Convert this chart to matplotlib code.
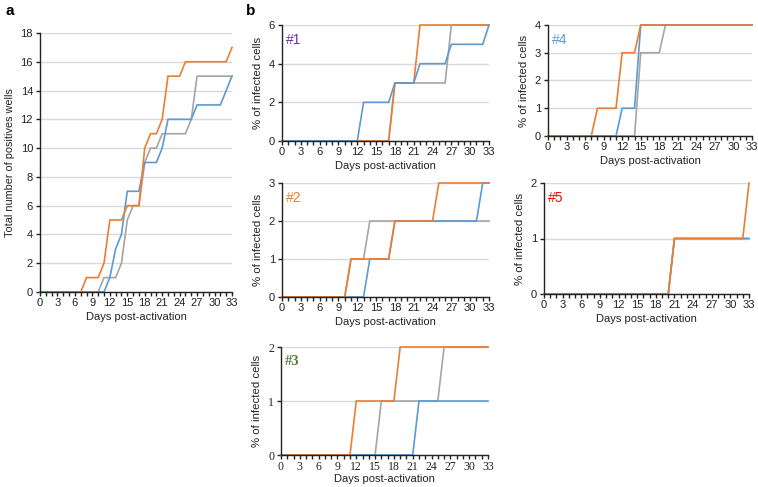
import matplotlib
matplotlib.use("Agg")
import matplotlib.pyplot as plt
from matplotlib.ticker import MultipleLocator

days = list(range(0, 34))

# Panel a: total number of positive wells
a_orange = [0,0,0,0,0,0,0,0,1,1,1,2,5,5,5,6,6,6,10,11,11,12,15,15,15,16,16,16,16,16,16,16,16,17]
a_blue   = [0,0,0,0,0,0,0,0,0,0,0,0,1,3,4,7,7,7,9,9,9,10,12,12,12,12,12,13,13,13,13,13,14,15]
a_gray   = [0,0,0,0,0,0,0,0,0,0,0,1,1,1,2,5,6,6,9,10,10,11,11,11,11,11,12,15,15,15,15,15,15,15]

def steps(pairs):
    # pairs of (first day at value, value) -> per-day list
    out = []
    for d in days:
        v = 0
        for start, val in pairs:
            if d >= start:
                v = val
        out.append(v)
    return out

# Panel b donors: % of infected cells
p1_blue   = steps([(13, 2), (18, 3), (22, 4), (27, 5), (33, 6)])
p1_orange = steps([(18, 3), (22, 6)])
p1_gray   = steps([(18, 3), (27, 6)])

p4_orange = steps([(8, 1), (12, 3), (15, 4)])
p4_blue   = steps([(12, 1), (15, 4)])
p4_gray   = steps([(15, 3), (19, 4)])

p2_orange = steps([(11, 1), (18, 2), (25, 3)])
p2_gray   = steps([(11, 1), (14, 2)])
p2_blue   = steps([(14, 1), (18, 2), (32, 3)])

p5_orange = steps([(21, 1), (33, 2)])
p5_blue   = steps([(21, 1)])
p5_gray   = steps([(21, 1)])

p3_orange = steps([(12, 1), (19, 2)])
p3_gray   = steps([(16, 1), (26, 2)])
p3_blue   = steps([(22, 1)])

x_ticks = list(range(0, 34, 3))

ORANGE = "#ED7D31"
BLUE = "#5B9BD5"
GRAY = "#A5A5A5"

W, H = 758, 487
fig = plt.figure(figsize=(W / 100, H / 100), dpi=100)
plt.rcParams["font.family"] = ["Liberation Sans", "DejaVu Sans"]

def make_ax(left, right, top, bottom):
    return fig.add_axes([left / W, 1 - bottom / H, (right - left) / W, (bottom - top) / H])

def style(ax, ymax, ystep, ylabel, serif=False, ylsize=8):
    ax.set_xlim(0, 33)
    ax.set_ylim(0, ymax)
    ax.set_xticks(x_ticks)
    ax.xaxis.set_minor_locator(MultipleLocator(1))
    ax.yaxis.set_major_locator(MultipleLocator(ystep))
    for s in ["top", "right"]:
        ax.spines[s].set_visible(False)
    for s in ["left", "bottom"]:
        ax.spines[s].set_color("#222222")
        ax.spines[s].set_linewidth(1.0)
    ax.grid(axis="y", color="#D9D9D9", linewidth=1.0)
    ax.set_axisbelow(True)
    ax.tick_params(axis="x", which="both", direction="out", length=3, width=1, color="#222222", pad=1)
    ax.tick_params(axis="y", which="major", direction="out", length=3, width=1, color="#222222", pad=2)
    fam = ["Liberation Serif"] if serif else ["Liberation Sans"]
    for lab in ax.get_xticklabels() + ax.get_yticklabels():
        lab.set_fontsize(8.5 if serif else 8)
        lab.set_family(fam)
        lab.set_color("#222222")
    ax.set_xlabel("Days post-activation", fontsize=8, color="#222222", labelpad=1 if serif else 3)
    ax.set_ylabel(ylabel, fontsize=ylsize, color="#222222", labelpad=4)

def draw(ax, series):
    for ys, c in series:
        ax.plot(days, ys, color=c, linewidth=1.2, clip_on=False, solid_joinstyle="miter")

# Panel a
axa = make_ax(40, 232, 33, 292)
draw(axa, [(a_gray, GRAY), (a_blue, BLUE), (a_orange, ORANGE)])
style(axa, 18, 2, "Total number of positives wells", ylsize=7.8)

# Panel b subplots
specs = [
    ((282, 489, 25, 141), [(p1_gray, GRAY), (p1_orange, ORANGE), (p1_blue, BLUE)], 6, 2, "#1", "#7030A0", False),
    ((548, 752, 25, 136), [(p4_gray, GRAY), (p4_blue, BLUE), (p4_orange, ORANGE)], 4, 1, "#4", "#5B9BD5", False),
    ((282, 489, 183, 297), [(p2_gray, GRAY), (p2_blue, BLUE), (p2_orange, ORANGE)], 3, 1, "#2", "#ED7D31", False),
    ((544, 749, 183, 294), [(p5_gray, GRAY), (p5_blue, BLUE), (p5_orange, ORANGE)], 2, 1, "#5", "#FF0000", False),
    ((281, 488, 347, 455), [(p3_gray, GRAY), (p3_blue, BLUE), (p3_orange, ORANGE)], 2, 1, "#3", "#548235", True),
]
for (l, r, t, b), series, ymax, ystep, tag, tcol, serif in specs:
    ax = make_ax(l, r, t, b)
    draw(ax, series)
    style(ax, ymax, ystep, "% of infected cells", serif=serif, ylsize=8.2)
    ax.text(0.02, 0.93, tag, transform=ax.transAxes, ha="left", va="top",
            fontsize=10.5 if serif else 10, color=tcol,
            family=["Liberation Serif"] if serif else ["Liberation Sans"],
            fontweight="bold" if serif else "normal")

fig.text(5 / W, 1 - 11 / H, "a", fontsize=11, fontweight="bold", va="center", ha="left")
fig.text(246 / W, 1 - 11 / H, "b", fontsize=11, fontweight="bold", va="center", ha="left")

fig.savefig("out.png", dpi=100)
